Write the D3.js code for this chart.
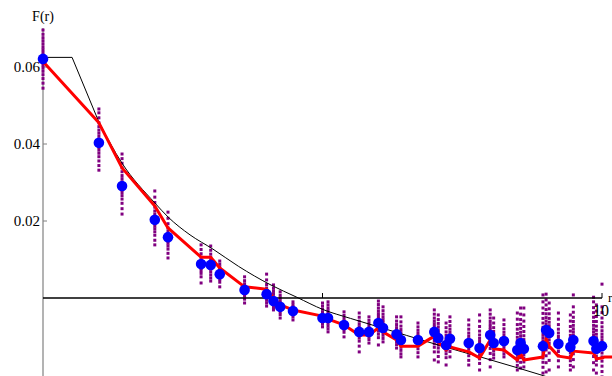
<!DOCTYPE html>
<html><head><meta charset="utf-8">
<script src="https://cdn.jsdelivr.net/npm/d3@7"></script>
<style>html,body{margin:0;padding:0;background:#fff;}svg{display:block;}</style>
</head><body>
<svg id="chart" width="612" height="376"></svg>
<script>
// r values (lattice distances)
const rValues = [0,1,1.414,2,2.236,2.828,3,3.162,3.606,4,4.123,4.243,4.472,5,5.099,5.385,5.657,5.831,6,6.083,6.325,6.403,6.708,7,7.071,7.211,7.28,7.616,7.81,8,8.062,8.246,8.485,8.544,8.602,8.944,9,9.055,9.22,9.434,9.487,9.849,9.899,10];
// blue mean values
const blueValues = [.0621,.0403,.0291,.0203,.0158,.0088,.0086,.0062,.0021,.0010,-.0008,-.0023,-.0034,-.0052,-.0052,-.0070,-.0088,-.0088,-.0065,-.0078,-.0094,-.0109,-.0109,-.0088,-.0104,-.0122,-.0106,-.0117,-.0130,-.0096,-.0117,-.0112,-.0135,-.0117,-.0132,-.0125,-.0083,-.0091,-.0119,-.0127,-.0109,-.0112,-.0132,-.0125];
// red line
const redX = [0,1,1.414,2,2.236,2.828,3,3.162,3.606,4,4.123,4.243,4.472,5,5.099,5.385,5.657,5.831,6,6.083,6.325,6.403,6.708,7,7.071,7.211,7.28,7.616,7.81,8,8.062,8.246,8.485,8.544,8.602,8.944,9,9.055,9.22,9.434,9.487,9.849,9.899,10,10.05,10.2];
const redY = [.0614,.0455,.0338,.0239,.0182,.0106,.0106,.0078,.0029,.0023,.0000,-.0018,-.0031,-.0047,-.0055,-.0070,-.0096,-.0096,-.0078,-.0088,-.0109,-.0125,-.0125,-.0099,-.0114,-.0135,-.0127,-.0140,-.0156,-.0109,-.0132,-.0135,-.0161,-.0145,-.0161,-.0153,-.0106,-.0125,-.0151,-.0156,-.0138,-.0143,-.0158,-.0156,-.0153,-.0153];
// black theory curve: flat cap, straight drop to r=1, then smooth
const capX = [0, 0.52, 1.0];
const capY = [.0625, .0625, .0457];
const curveX = [1.0,1.41,2.0,2.24,2.63,3.04,3.5,4.06,4.54,5.01,5.5,6.0,6.5,7.0,7.5,7.87,8.48,8.89,9.3];
const curveY = [.0457,.0351,.0247,.0210,.0164,.0127,.0082,.0035,.0002,-.0030,-.0053,-.0075,-.0097,-.0119,-.0140,-.0155,-.0181,-.0199,-.0218];
// purple samples per r column
const purpleValues = [
 [.0696,.0685,.0676,.0668,.0660,.0652,.0645,.0638,.0631,.0625,.0618,.0611,.0604,.0597,.0589,.0580,.0570,.0558,.0545],
 [.0491,.0481,.0468,.0455,.0445,.0436,.0428,.0420,.0412,.0405,.0398,.0391,.0384,.0376,.0367,.0356,.0344,.0332],
 [.0374,.0362,.0350,.0338,.0328,.0318,.0310,.0302,.0295,.0288,.0281,.0274,.0266,.0257,.0246,.0232,.0218],
 [.0278,.0262,.0248,.0236,.0226,.0218,.0211,.0205,.0199,.0193,.0187,.0180,.0172,.0163,.0150,.0138],
 [.0223,.0207,.0193,.0182,.0174,.0166,.0160,.0154,.0148,.0142,.0135,.0127,.0116,.0104],
 [.0138,.0126,.0115,.0106,.0099,.0093,.0088,.0083,.0077,.0071,.0064,.0055,.0039],
 [.0135,.0124,.0114,.0106,.0099,.0093,.0087,.0081,.0075,.0068,.0060,.0052,.0044],
 [.0096,.0088,.0081,.0075,.0069,.0064,.0059,.0054,.0048,.0041,.0029],
 [.0055,.0045,.0037,.0031,.0026,.0021,.0016,.0011,.0005,-.0003,-.0013],
 [.0062,.0047,.0035,.0026,.0019,.0013,.0007,.0001,-.0006,-.0013,-.0021],
 [.0034,.0025,.0017,.0010,.0003,-.0003,-.0009,-.0014,-.0019,-.0025,-.0031],
 [.0016,.0007,.0000,-.0007,-.0013,-.0019,-.0025,-.0030,-.0036,-.0043,-.0052],
 [-.0010,-.0017,-.0023,-.0028,-.0033,-.0038,-.0043,-.0049,-.0057],
 [-.0013,-.0021,-.0029,-.0036,-.0042,-.0047,-.0052,-.0057,-.0062,-.0068,-.0075],
 [-.0010,-.0018,-.0026,-.0033,-.0039,-.0045,-.0050,-.0055,-.0060,-.0066,-.0073,-.0080,-.0088],
 [-.0036,-.0045,-.0053,-.0060,-.0066,-.0071,-.0076,-.0082,-.0089,-.0101],
 [-.0039,-.0050,-.0060,-.0068,-.0075,-.0081,-.0086,-.0091,-.0097,-.0104,-.0112,-.0125,-.0140],
 [-.0049,-.0058,-.0066,-.0073,-.0079,-.0085,-.0090,-.0095,-.0101,-.0108,-.0117],
 [-.0008,-.0017,-.0026,-.0034,-.0041,-.0047,-.0053,-.0058,-.0063,-.0068,-.0073,-.0079,-.0086,-.0094,-.0103,-.0122],
 [-.0023,-.0033,-.0042,-.0050,-.0057,-.0063,-.0069,-.0074,-.0079,-.0084,-.0090,-.0097,-.0105,-.0114],
 [-.0049,-.0060,-.0069,-.0077,-.0084,-.0090,-.0095,-.0100,-.0106,-.0113,-.0121,-.0130],
 [-.0049,-.0062,-.0073,-.0082,-.0090,-.0097,-.0103,-.0109,-.0115,-.0121,-.0128,-.0136,-.0145,-.0153],
 [-.0065,-.0075,-.0084,-.0092,-.0099,-.0105,-.0111,-.0117,-.0124,-.0132,-.0142,-.0153],
 [-.0031,-.0042,-.0052,-.0060,-.0067,-.0074,-.0080,-.0086,-.0092,-.0098,-.0104,-.0111,-.0119,-.0128,-.0140,-.0161],
 [-.0044,-.0056,-.0066,-.0075,-.0083,-.0090,-.0097,-.0103,-.0109,-.0115,-.0122,-.0130,-.0140,-.0152,-.0166],
 [-.0065,-.0077,-.0088,-.0097,-.0105,-.0112,-.0118,-.0124,-.0130,-.0137,-.0145,-.0155,-.0174],
 [-.0049,-.0061,-.0072,-.0081,-.0089,-.0096,-.0102,-.0108,-.0114,-.0121,-.0129,-.0139,-.0153],
 [-.0057,-.0070,-.0081,-.0091,-.0099,-.0106,-.0113,-.0119,-.0125,-.0132,-.0140,-.0150,-.0162,-.0174],
 [-.0044,-.0060,-.0074,-.0086,-.0096,-.0105,-.0113,-.0120,-.0127,-.0134,-.0141,-.0149,-.0158,-.0170,-.0187],
 [-.0031,-.0042,-.0052,-.0061,-.0069,-.0076,-.0082,-.0088,-.0094,-.0100,-.0106,-.0113,-.0121,-.0131,-.0144,-.0160,-.0179],
 [-.0052,-.0065,-.0077,-.0087,-.0096,-.0104,-.0111,-.0117,-.0123,-.0130,-.0138,-.0147,-.0156],
 [-.0057,-.0069,-.0080,-.0089,-.0097,-.0104,-.0110,-.0116,-.0122,-.0129,-.0137,-.0145,-.0153],
 [-.0039,-.0055,-.0069,-.0081,-.0092,-.0102,-.0111,-.0119,-.0126,-.0133,-.0140,-.0147,-.0155,-.0164,-.0175,-.0187],
 [-.0026,-.0042,-.0056,-.0068,-.0079,-.0089,-.0098,-.0106,-.0113,-.0120,-.0127,-.0135,-.0144,-.0155,-.0167,-.0182],
 [-.0026,-.0044,-.0060,-.0074,-.0087,-.0098,-.0108,-.0117,-.0125,-.0132,-.0139,-.0147,-.0156,-.0166,-.0179],
 [.0008,-.0010,-.0026,-.0040,-.0053,-.0065,-.0076,-.0086,-.0095,-.0103,-.0111,-.0118,-.0125,-.0132,-.0139,-.0147,-.0156,-.0167,-.0180,-.0195],
 [.0010,-.0005,-.0018,-.0030,-.0041,-.0051,-.0060,-.0068,-.0075,-.0082,-.0089,-.0096,-.0104,-.0113,-.0123,-.0135,-.0150,-.0168,-.0192],
 [-.0013,-.0028,-.0041,-.0053,-.0063,-.0072,-.0080,-.0087,-.0094,-.0101,-.0109,-.0118,-.0129,-.0143,-.0162,-.0187],
 [-.0039,-.0055,-.0069,-.0081,-.0091,-.0100,-.0108,-.0115,-.0122,-.0130,-.0139,-.0150,-.0163,-.0179],
 [-.0044,-.0060,-.0074,-.0086,-.0097,-.0106,-.0114,-.0121,-.0128,-.0135,-.0143,-.0152,-.0163,-.0175,-.0187],
 [.0008,-.0023,-.0037,-.0050,-.0061,-.0071,-.0080,-.0088,-.0096,-.0103,-.0110,-.0117,-.0125,-.0134,-.0145,-.0160,-.0179],
 [.0002,-.0010,-.0025,-.0038,-.0050,-.0061,-.0071,-.0080,-.0088,-.0096,-.0103,-.0111,-.0119,-.0128,-.0139,-.0152,-.0168,-.0187],
 [-.0018,-.0034,-.0048,-.0061,-.0073,-.0084,-.0094,-.0103,-.0111,-.0119,-.0127,-.0135,-.0143,-.0152,-.0162,-.0174,-.0195],
 [.0036,-.0023,-.0038,-.0052,-.0064,-.0075,-.0085,-.0094,-.0102,-.0110,-.0118,-.0126,-.0134,-.0143,-.0153,-.0164,-.0177,-.0191,-.0205]
];
const yTicks = [0.02, 0.04, 0.06];
const yTickLabels = ["0.02", "0.04", "0.06"];
const xTicks = [5, 10];
const xTickLabels = ["", "10"];
const xAxisLabel = "r";
const yAxisLabel = "F(r)";

const svg = d3.select("#chart");
const x = d3.scaleLinear().domain([0, 10]).range([43, 602]);
const y = d3.scaleLinear().domain([0, 0.06]).range([298, 67]);
const font = "'Liberation Serif','DejaVu Serif',serif";

// axes
svg.append("line").attr("x1", x(0)).attr("x2", x(0)).attr("y1", 28).attr("y2", 376)
  .attr("stroke", "#808080").attr("stroke-width", 1.2);
svg.selectAll(".yt").data(yTicks).enter().append("line")
  .attr("x1", x(0)).attr("x2", x(0) + 4).attr("y1", d => y(d)).attr("y2", d => y(d))
  .attr("stroke", "#808080").attr("stroke-width", 1);
svg.selectAll(".ytl").data(yTicks).enter().append("text")
  .attr("x", x(0) - 3).attr("y", d => y(d)).attr("dy", "0.35em")
  .attr("text-anchor", "end").attr("font-family", font).attr("font-size", 15)
  .attr("fill", "#000").text((d, i) => yTickLabels[i]);
svg.append("text").attr("x", x(0)).attr("y", 21).attr("text-anchor", "middle")
  .attr("font-family", font).attr("font-size", 14).text(yAxisLabel);

// purple samples
const purplePts = [];
purpleValues.forEach((col, i) => col.forEach(v => purplePts.push([rValues[i], v])));
svg.append("g").selectAll("rect").data(purplePts).enter().append("rect")
  .attr("x", d => x(d[0]) - 1.5).attr("y", d => y(d[1]) - 1.5)
  .attr("width", 3).attr("height", 3).attr("fill", "#800080");

// x axis line over purple
svg.append("line").attr("x1", x(0)).attr("x2", x(10)).attr("y1", y(0)).attr("y2", y(0))
  .attr("stroke", "#000").attr("stroke-width", 1.3);
svg.selectAll(".xt").data(xTicks).enter().append("line")
  .attr("x1", d => x(d)).attr("x2", d => x(d)).attr("y1", y(0)).attr("y2", y(0) - 5)
  .attr("stroke", "#000").attr("stroke-width", 1);
svg.selectAll(".xtl").data(xTicks).enter().append("text")
  .attr("x", d => x(d) - 1).attr("y", 316).attr("text-anchor", "middle")
  .attr("font-family", font).attr("font-size", 16).text((d, i) => xTickLabels[i]);
svg.append("text").attr("x", 608).attr("y", 302)
  .attr("font-family", font).attr("font-size", 13).text(xAxisLabel);

// black curve
const line = d3.line().x(d => x(d[0])).y(d => y(d[1]));
const smooth = d3.line().x(d => x(d[0])).y(d => y(d[1])).curve(d3.curveMonotoneX);
svg.append("path").datum(capX.map((v, i) => [v, capY[i]]))
  .attr("d", line).attr("fill", "none").attr("stroke", "#000").attr("stroke-width", 1);
svg.append("path").datum(curveX.map((v, i) => [v, curveY[i]]))
  .attr("d", smooth).attr("fill", "none").attr("stroke", "#000").attr("stroke-width", 1);

// red line
svg.append("path").datum(redX.map((v, i) => [v, redY[i]]))
  .attr("d", line).attr("fill", "none").attr("stroke", "#ff0000")
  .attr("stroke-width", 3).attr("stroke-linejoin", "round");

// blue means
svg.append("g").selectAll("circle").data(rValues.map((v, i) => [v, blueValues[i]])).enter()
  .append("circle").attr("cx", d => x(d[0])).attr("cy", d => y(d[1])).attr("r", 5.3)
  .attr("fill", "#0000ff");
</script>
</body></html>
